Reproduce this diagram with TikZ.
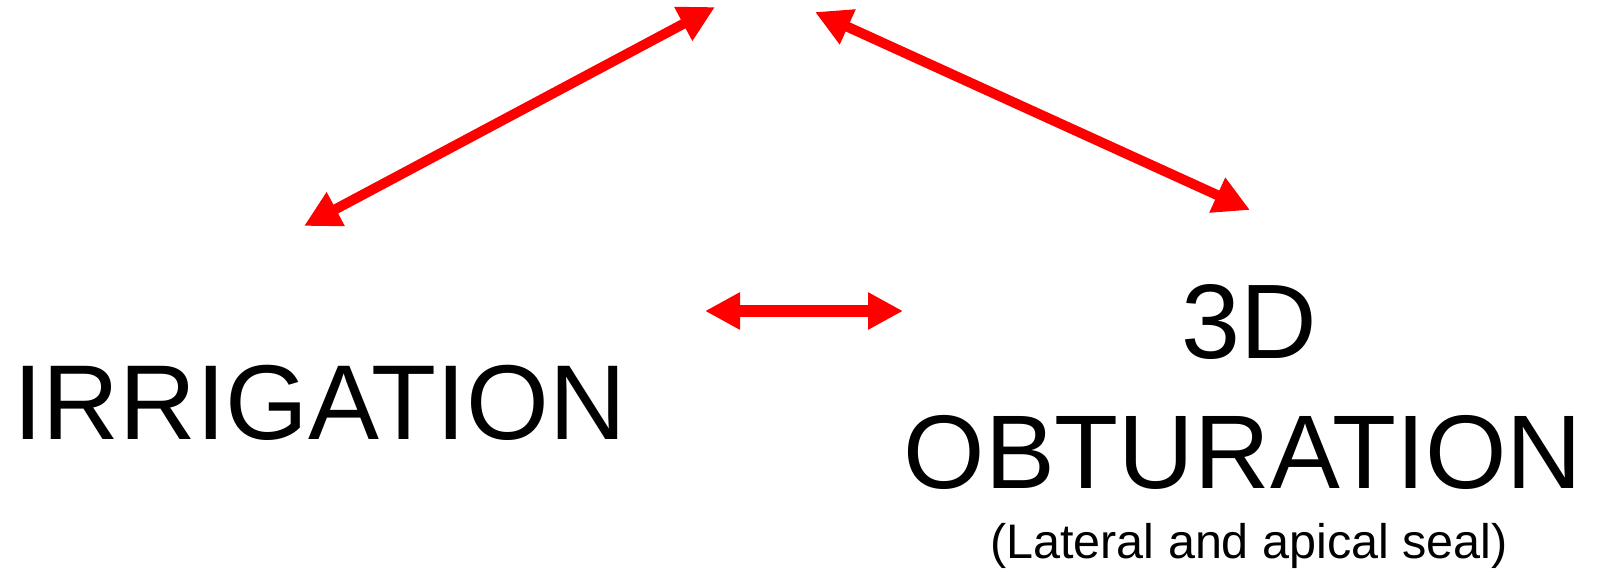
\documentclass[tikz,border=0pt]{standalone}
\usepackage{fontspec}
\setmainfont{Liberation Sans}
\usetikzlibrary{arrows.meta}
\definecolor{arrred}{RGB}{255,0,0}
\tikzset{
  bigtext/.style={inner sep=0pt, anchor=base, font=\fontsize{106}{110}\selectfont},
  subtext/.style={inner sep=0pt, anchor=base, font=\fontsize{48.5}{52}\selectfont},
  dblarrow/.style={draw=arrred, line width=10pt,
    {Triangle[length=36pt,width=36pt,fill=arrred]}-{Triangle[length=36pt,width=36pt,fill=arrred]}},
  midarrow/.style={draw=arrred, line width=12pt,
    {Triangle[length=35pt,width=35pt,fill=arrred]}-{Triangle[length=35pt,width=35pt,fill=arrred]}}
}
\begin{document}
\begin{tikzpicture}[x=1pt,y=-1pt]
\useasboundingbox (0,0) rectangle (1604,571);
\node[bigtext, font=\fontsize{106.4}{110}\selectfont] (irr) at (319.5,439) {IRRIGATION};
\node[bigtext, font=\fontsize{106}{110}\selectfont] (threed) at (1249,358) {3D};
\node[bigtext, font=\fontsize{104.7}{110}\selectfont] (obt) at (1243,488) {OBTURATION};
\node[subtext] (seal) at (1249,558) {(Lateral and apical seal)};
\coordinate (tlA) at (304,226);
\coordinate (tlB) at (715,7);
\coordinate (trA) at (815,12);
\coordinate (trB) at (1250,210);
\coordinate (mA) at (705,311);
\coordinate (mB) at (903,311);
\draw[dblarrow] (tlA) -- (tlB);
\draw[dblarrow] (trA) -- (trB);
\draw[midarrow] (mA) -- (mB);
\end{tikzpicture}
\end{document}
